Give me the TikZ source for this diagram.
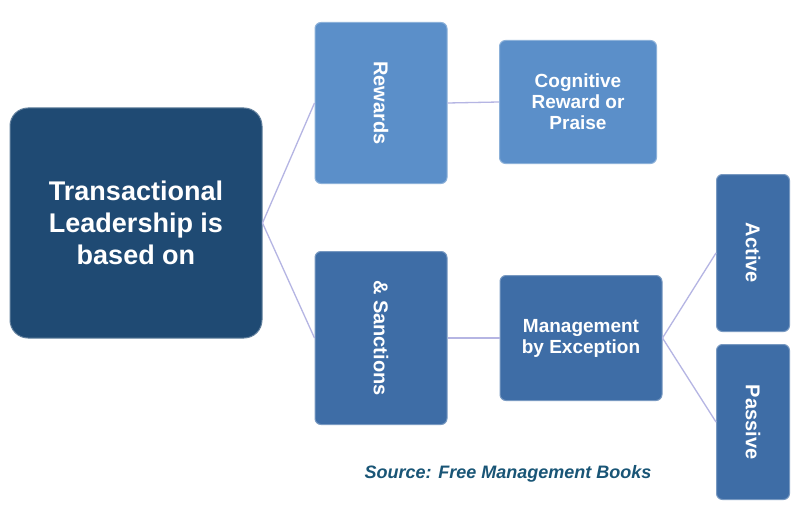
\documentclass[tikz,border=0pt]{standalone}
\usepackage{fontspec}
\setmainfont{Liberation Sans}
\begin{document}
\begin{tikzpicture}[x=1pt,y=-1pt,
  bx/.style={draw=#1!70!white,line width=1pt,fill=#1,rounded corners=6pt,text=white,font=\bfseries\fontsize{19}{21}\selectfont,align=center,inner sep=0pt},
  ln/.style={draw=gray!55!blue!40,line width=1.3pt}]
\useasboundingbox[fill=white] (0,0) rectangle (800,524);
\definecolor{navy}{HTML}{1F4A73}
\definecolor{mid}{HTML}{5B8FC9}
\definecolor{dk}{HTML}{3E6DA6}
\node[bx=navy,rounded corners=18pt,minimum width=252pt,minimum height=230pt,font=\bfseries\fontsize{27}{32}\selectfont] (main) at (136,223) {Transactional\\Leadership is\\based on};
\node[bx=mid,minimum width=132pt,minimum height=161pt] (rew) at (381,103) {};
\node[rotate=-90,text=white,font=\bfseries\fontsize{20}{22}\selectfont] at (rew) {Rewards};
\node[bx=mid,minimum width=157pt,minimum height=123pt] (cog) at (578,102) {Cognitive\\Reward or\\Praise};
\node[bx=dk,minimum width=132pt,minimum height=173pt] (san) at (381,338) {};
\node[rotate=-90,text=white,font=\bfseries\fontsize{20}{22}\selectfont] at (san) {\& Sanctions};
\node[bx=dk,minimum width=162pt,minimum height=125pt] (man) at (581,338) {Management\\by Exception};
\node[bx=dk,minimum width=73pt,minimum height=157pt] (act) at (753,253) {};
\node[rotate=-90,text=white,font=\bfseries\fontsize{20}{22}\selectfont] at (act) {Active};
\node[bx=dk,minimum width=73pt,minimum height=155pt] (pas) at (753,422) {};
\node[rotate=-90,text=white,font=\bfseries\fontsize{20}{22}\selectfont] at (pas) {Passive};
\node[text=navy!80!teal,font=\bfseries\itshape\fontsize{18}{20}\selectfont] (src) at (508,474) {Source: Free Management Books};
\coordinate (m) at (main.east);
\draw[ln] (m) -- (rew.west);
\draw[ln] (m) -- (san.west);
\draw[ln] (rew.east) -- (cog.west);
\draw[ln] (san.east) -- (man.west);
\draw[ln] (man.east) -- (act.west);
\draw[ln] (man.east) -- (pas.west);
\end{tikzpicture}
\end{document}
